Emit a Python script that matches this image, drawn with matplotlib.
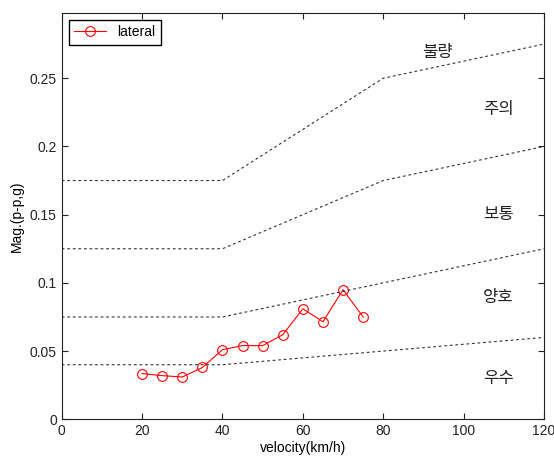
import numpy as np
import matplotlib
matplotlib.use('Agg')
import matplotlib.pyplot as plt

plt.rcParams['font.family'] = ['Liberation Sans', 'Noto Sans CJK KR', 'DejaVu Sans']

# measured lateral vibration
velocity = [20, 25, 30, 35, 40, 45, 50, 55, 60, 65, 70, 75]
lateral = [0.0335, 0.032, 0.031, 0.038, 0.051, 0.054, 0.054, 0.062, 0.081, 0.0715, 0.095, 0.075]

# grade boundary lines (breakpoints)
bound_x = [0, 40, 80, 120]
bound_excellent = [0.04, 0.04, 0.05, 0.06]
bound_good = [0.075, 0.075, 0.1, 0.125]
bound_normal = [0.125, 0.125, 0.175, 0.2]
bound_caution = [0.175, 0.175, 0.25, 0.275]

grade_labels = ['우수', '양호', '보통', '주의', '불량']
grade_x = [108.7, 108.7, 108.7, 108.7, 93.6]
grade_y = [0.030, 0.089, 0.150, 0.227, 0.269]

fig = plt.figure(figsize=(5.54, 4.59), dpi=100)
ax = fig.add_axes([0.1114, 0.0865, 0.8706, 0.8858])

ax.plot(velocity, lateral, '-o', color='#ff0000', lw=0.8, ms=7, mfc='none', mew=0.8, label='lateral')
for b in [bound_excellent, bound_good, bound_normal, bound_caution]:
    ax.plot(bound_x, b, color='#333333', lw=0.8, dashes=(2.5, 2.5))

for t, x, y in zip(grade_labels, grade_x, grade_y):
    ax.text(x, y, t, ha='center', va='center', fontsize=12, color='#222222',
            family=['Noto Sans CJK KR', 'DejaVu Sans'])

ax.set_xlim(0, 120)
ax.set_ylim(0, 0.298)
ax.set_xticks([0, 20, 40, 60, 80, 100, 120])
ax.set_yticks([0, 0.05, 0.1, 0.15, 0.2, 0.25])
ax.set_yticklabels(['0', '0.05', '0.1', '0.15', '0.2', '0.25'])
ax.tick_params(direction='in', top=True, right=True, labelsize=10, length=4, width=0.8,
               colors='#222222')
for s in ax.spines.values():
    s.set_linewidth(0.8)
    s.set_color('#222222')
ax.set_xlabel('velocity(km/h)', fontsize=10, labelpad=2)
ax.set_ylabel('Mag.(p-p,g)', fontsize=10)

ax.legend(loc='upper left', fontsize=10, fancybox=False, edgecolor='k', framealpha=1,
          borderaxespad=0.5, handlelength=2.3, handletextpad=0.8)

fig.savefig('out.png', dpi=100)
